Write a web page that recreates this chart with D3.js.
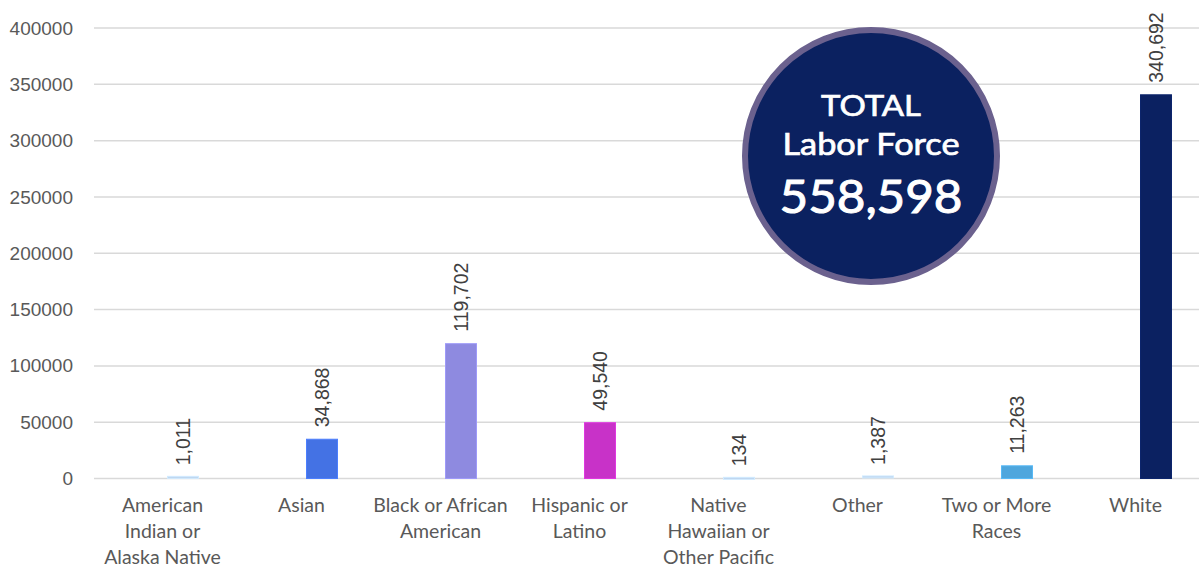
<!DOCTYPE html>
<html>
<head>
<meta charset="utf-8">
<script src="https://cdn.jsdelivr.net/npm/d3@7"></script>
<style>
  html, body { margin: 0; padding: 0; background: #fff; overflow: hidden; }
  svg { display: block; }
</style>
</head>
<body>
<svg id="chart" width="1199" height="567"></svg>
<script>
const categories = [
  "American Indian or Alaska Native",
  "Asian",
  "Black or African American",
  "Hispanic or Latino",
  "Native Hawaiian or Other Pacific Islander",
  "Other",
  "Two or More Races",
  "White"
];
const categoryLines = [
  ["American", "Indian or", "Alaska Native"],
  ["Asian"],
  ["Black or African", "American"],
  ["Hispanic or", "Latino"],
  ["Native", "Hawaiian or", "Other Pacific"],
  ["Other"],
  ["Two or More", "Races"],
  ["White"]
];
const laborForce = [1011, 34868, 119702, 49540, 134, 1387, 11263, 340692];
const barColors = ["#bcd3ee", "#4472e4", "#8e8ae0", "#c832c8", "#bcd3ee", "#bcd3ee", "#4ea6dd", "#0b2161"];
const yTicks = [0, 50000, 100000, 150000, 200000, 250000, 300000, 350000, 400000];
const totalLabel = ["TOTAL", "Labor Force"];
const totalValue = 558598;

const svg = d3.select("#chart");
const fmt = d3.format(",");

// category bands (labels centred in each band); bar sits right of the band centre
const x = d3.scaleBand().domain(categories).range([93, 1205]).paddingInner(0).paddingOuter(0);
const barW = 31;
const barX = d => x(d) + x.bandwidth() / 2 + 20.5 - barW / 2;
const y = d3.scaleLinear().domain([0, 400000]).range([478.5, 28]);

// gridlines
svg.append("g").selectAll("line").data(yTicks).join("line")
  .attr("x1", 94).attr("x2", 1199)
  .attr("y1", d => y(d)).attr("y2", d => y(d))
  .attr("stroke", "#d9d9d9").attr("stroke-width", 1.5);

// y axis labels
const yAxis = d3.axisLeft(y).tickValues(yTicks).tickFormat(d3.format("d")).tickSize(0).tickPadding(0);
const ya = svg.append("g").attr("transform", "translate(73,0)").call(yAxis);
ya.select(".domain").remove();
ya.selectAll("text").attr("font-family", "'Liberation Sans', Arial, sans-serif")
  .attr("font-size", 19).attr("fill", "#595959");

// bars
svg.append("g").selectAll("rect").data(categories).join("rect")
  .attr("x", d => barX(d))
  .attr("width", barW)
  .attr("y", (d, i) => y(laborForce[i]) - (laborForce[i] < 5000 ? 1 : 0))
  .attr("height", (d, i) => Math.max(2, y(0) - y(laborForce[i])))
  .attr("fill", (d, i) => barColors[i])
  .attr("stroke", (d, i) => d3.color(barColors[i]).brighter(0.3))
  .attr("stroke-width", 1);

// data labels (rotated)
svg.append("g").selectAll("text").data(categories).join("text")
  .attr("transform", (d, i) => `translate(${barX(d) + barW / 2 + 7},${y(laborForce[i]) - 12}) rotate(-90)`)
  .attr("text-anchor", "start")
  .attr("font-family", "'Liberation Sans', Arial, sans-serif")
  .attr("font-size", 19.5).attr("fill", "#404040")
  .text((d, i) => fmt(laborForce[i]));

// x labels
const xl = svg.append("g").selectAll("text").data(categories).join("text")
  .attr("x", d => x(d) + x.bandwidth() / 2)
  .attr("y", 512)
  .attr("text-anchor", "middle")
  .attr("font-family", "Lato, 'Noto Sans', sans-serif")
  .attr("font-size", 19.5).attr("fill", "#595959");
xl.each(function(d, i) {
  d3.select(this).selectAll("tspan").data(categoryLines[i]).join("tspan")
    .attr("x", x(d) + x.bandwidth() / 2)
    .attr("dy", (t, j) => j === 0 ? 0 : 26)
    .text(t => t);
});

// total circle
const cx = 871, cy = 156;
svg.append("circle").attr("cx", cx).attr("cy", cy).attr("r", 126)
  .attr("fill", "#0b2160").attr("stroke", "#6b618e").attr("stroke-width", 6);
const circleText = (txt, yy, size, len) => svg.append("text")
  .attr("x", cx).attr("y", yy).attr("text-anchor", "middle")
  .attr("font-family", "Lato, 'Noto Sans', sans-serif").attr("font-size", size).attr("font-weight", 400)
  .attr("stroke", "#fff").attr("stroke-width", size > 40 ? 1 : 0.7)
  .attr("textLength", len).attr("lengthAdjust", "spacingAndGlyphs")
  .attr("fill", "#fff").text(txt);
circleText(totalLabel[0], 116, 29, 100);
circleText(totalLabel[1], 155, 30, 177);
circleText(fmt(totalValue), 213, 46, 183);
</script>
</body>
</html>
